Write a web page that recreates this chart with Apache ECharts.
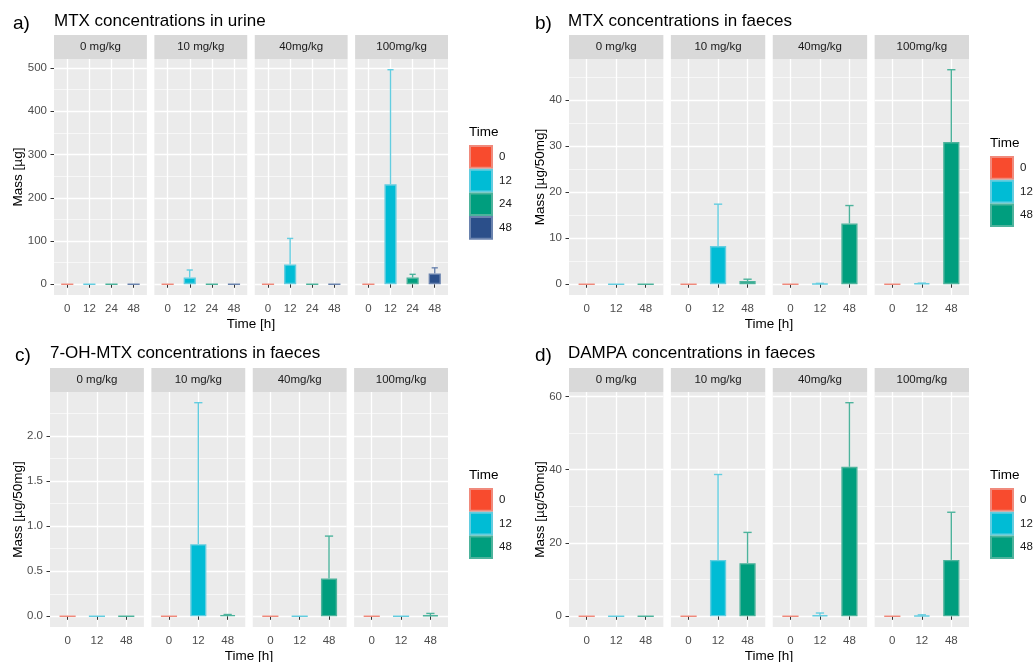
<!DOCTYPE html>
<html>
<head>
<meta charset="utf-8">
<title>MTX concentrations</title>
<script src="https://cdn.jsdelivr.net/npm/echarts@6/dist/echarts.min.js"></script>
<style>
  html, body { margin: 0; padding: 0; background: #fff; }
  #chart { width: 1034px; height: 662px; }
</style>
</head>
<body>
<div id="chart"></div>
<script>
// facet strips and x categories
const doses = ['0 mg/kg', '10 mg/kg', '40mg/kg', '100mg/kg'];
const urineTimes = ['0', '12', '24', '48'];
const faecesTimes = ['0', '12', '48'];

// mean and sd per dose (rows) and time (columns)
const mtxUrineMean = [[0, 0, 0, 0], [0, 15.4, 0, 0], [0, 46, 0, 0], [0, 231, 15.5, 25]];
const mtxUrineSd = [[0, 0, 0, 0], [0, 17.6, 0, 0], [0, 60, 0, 0], [0, 265, 7.5, 13]];
const mtxFaecesMean = [[0, 0, 0], [0, 8.3, 0.7], [0, 0.1, 13.2], [0, 0.2, 30.9]];
const mtxFaecesSd = [[0, 0, 0], [0, 9.1, 0.4], [0, 0.1, 3.9], [0, 0.05, 15.7]];
const ohMtxMean = [[0, 0, 0], [0, 0.8, 0.015], [0, 0, 0.42], [0, 0, 0.012]];
const ohMtxSd = [[0, 0, 0], [0, 1.57, 0.005], [0, 0, 0.47], [0, 0, 0.02]];
const dampaMean = [[0, 0, 0], [0, 15.4, 14.5], [0, 0.3, 40.8], [0, 0.2, 15.4]];
const dampaSd = [[0, 0, 0], [0, 23.3, 8.4], [0, 0.6, 17.5], [0, 0.2, 13]];

// y ticks (major with labels, minor grid only)
const urineTicks = [0, 100, 200, 300, 400, 500];
const urineMinor = [50, 150, 250, 350, 450];
const mtxFaecesTicks = [0, 10, 20, 30, 40];
const mtxFaecesMinor = [5, 15, 25, 35, 45];
const ohMtxTicks = [0, 0.5, 1, 1.5, 2];
const ohMtxMinor = [0.25, 0.75, 1.25, 1.75, 2.25];
const dampaTicks = [0, 20, 40, 60];
const dampaMinor = [10, 30, 50];

const urineColors = ['#F84B2E', '#00BCD5', '#009E7E', '#2B4F8A'];
const urineLight = ['#F08A7C', '#63CDE0', '#4DB39C', '#6A83AE'];
const faecesColors = ['#F84B2E', '#00BCD5', '#009E7E'];
const faecesLight = ['#F08A7C', '#63CDE0', '#4DB39C'];

const FONT = '"Liberation Sans", Arial, sans-serif';

const panels = [
  { tag: 'a)', title: 'MTX concentrations in urine', yName: 'Mass [µg]',
    times: urineTimes, mean: mtxUrineMean, sd: mtxUrineSd, ticks: urineTicks, minor: urineMinor, digits: 0,
    colors: urineColors, light: urineLight,
    left: 54, right: 448, top: 59, bottom: 295, tagX: 13, titleX: 54, titleY: 21, yNameX: 18, legendX: 469, legendY: 145 },
  { tag: 'b)', title: 'MTX concentrations in faeces', yName: 'Mass [µg/50mg]',
    times: faecesTimes, mean: mtxFaecesMean, sd: mtxFaecesSd, ticks: mtxFaecesTicks, minor: mtxFaecesMinor, digits: 0,
    colors: faecesColors, light: faecesLight,
    left: 569, right: 969, top: 59, bottom: 295, tagX: 535, titleX: 568, titleY: 21, yNameX: 540, legendX: 990, legendY: 156 },
  { tag: 'c)', title: '7-OH-MTX concentrations in faeces', yName: 'Mass [µg/50mg]',
    times: faecesTimes, mean: ohMtxMean, sd: ohMtxSd, ticks: ohMtxTicks, minor: ohMtxMinor, digits: 1,
    colors: faecesColors, light: faecesLight,
    left: 50, right: 448, top: 392, bottom: 627, tagX: 15, titleX: 50, titleY: 353, yNameX: 18, legendX: 469, legendY: 488 },
  { tag: 'd)', title: 'DAMPA concentrations in faeces', yName: 'Mass [µg/50mg]',
    times: faecesTimes, mean: dampaMean, sd: dampaSd, ticks: dampaTicks, minor: dampaMinor, digits: 0,
    colors: faecesColors, light: faecesLight,
    left: 569, right: 969, top: 392, bottom: 627, tagX: 535, titleX: 568, titleY: 353, yNameX: 540, legendX: 990, legendY: 488 }
];

const chart = echarts.init(document.getElementById('chart'));
const option = { animation: false, grid: [], xAxis: [], yAxis: [], series: [], legend: [], graphic: { elements: [] } };
const gfx = option.graphic.elements;

function text(x, y, str, size, color, align, rotation) {
  gfx.push({
    type: 'text', x: x, y: y, rotation: rotation || 0, silent: true,
    style: { text: str, font: size + 'px ' + FONT, fill: color, align: align, textAlign: align,
      verticalAlign: 'middle', textVerticalAlign: 'middle' }
  });
}

const gap = 7.5;
panels.forEach((p, pi) => {
  const fw = (p.right - p.left - 3 * gap) / 4;
  const n = p.times.length;
  const unit = fw / (n + 0.2);
  let upper = 0;
  p.mean.forEach((row, d) => row.forEach((m, t) => { upper = Math.max(upper, m + p.sd[d][t]); }));
  const pad = upper * 0.05;
  const xs = p.times.map((t, i) => i + 1);

  doses.forEach((dose, d) => {
    const gi = option.grid.length;
    const x0 = p.left + d * (fw + gap);
    option.grid.push({ left: x0, top: p.top, width: fw, height: p.bottom - p.top,
      show: true, backgroundColor: '#EBEBEB', borderWidth: 0 });
    option.xAxis.push({
      type: 'value', gridIndex: gi, min: 0.4, max: n + 0.6,
      axisLine: { show: false },
      axisTick: { show: true, length: 3.5, lineStyle: { color: '#333' }, customValues: xs },
      axisLabel: { customValues: xs, formatter: v => p.times[Math.round(v) - 1], color: '#4D4D4D',
        fontSize: 11.5, fontFamily: FONT, margin: 8 },
      splitLine: { show: true, lineStyle: { color: '#fff', width: 1.3 } }
    });
    option.yAxis.push({
      type: 'value', gridIndex: gi, min: -pad, max: upper + pad,
      axisLine: { show: false },
      axisTick: { show: d === 0, length: 3.5, lineStyle: { color: '#333' }, customValues: p.ticks },
      axisLabel: { show: d === 0, customValues: p.ticks, formatter: v => v.toFixed(p.digits), color: '#4D4D4D',
        fontSize: 11.5, fontFamily: FONT, margin: 7 },
      splitLine: { show: true, lineStyle: { color: '#fff', width: 1.3 } }
    });
    option.yAxis.push({
      type: 'value', gridIndex: gi, min: -pad, max: upper + pad,
      axisLine: { show: false },
      axisTick: { show: false, customValues: p.minor },
      axisLabel: { show: false },
      splitLine: { show: true, lineStyle: { color: '#fff', width: 0.6 } }
    });

    // bars, one series per time so the legend picks up the colours
    p.times.forEach((t, ti) => {
      option.series.push({
        type: 'bar', name: pi + '|' + t, xAxisIndex: gi, yAxisIndex: 2 * gi, silent: true,
        barWidth: unit * 0.55, barGap: '-100%', z: 3,
        itemStyle: { color: p.colors[ti], borderColor: p.light[ti], borderWidth: 1.4 },
        data: [[ti + 1, p.mean[d][ti]]]
      });
    });

    // upper error bars
    const errData = [];
    p.times.forEach((t, ti) => {
      if (p.sd[d][ti] > 0) errData.push([ti + 1, p.mean[d][ti], p.mean[d][ti] + p.sd[d][ti], ti]);
    });
    option.series.push({
      type: 'custom', xAxisIndex: gi, yAxisIndex: 2 * gi, silent: true, z: 4, data: errData,
      renderItem: (params, api) => {
        const x = api.value(0);
        const base = api.coord([x, api.value(1)]);
        const top = api.coord([x, api.value(2)]);
        const half = api.size([1, 0])[0] * 0.14;
        const style = { stroke: p.light[api.value(3)], lineWidth: 1.4 };
        return { type: 'group', children: [
          { type: 'line', shape: { x1: top[0], y1: base[1], x2: top[0], y2: top[1] }, style: style },
          { type: 'line', shape: { x1: top[0] - half, y1: top[1], x2: top[0] + half, y2: top[1] }, style: style }
        ] };
      }
    });

    // facet strip
    gfx.push({ type: 'rect', silent: true, shape: { x: x0, y: p.top - 24, width: fw, height: 24 },
      style: { fill: '#D9D9D9' } });
    text(x0 + fw / 2, p.top - 12, dose, 11.5, '#1A1A1A', 'center');
  });

  option.legend.push({
    data: p.times.map(t => pi + '|' + t),
    formatter: name => name.split('|')[1],
    orient: 'vertical', left: p.legendX, top: p.legendY, padding: 0,
    itemWidth: 22, itemHeight: 21.7, itemGap: 0, icon: 'rect', selectedMode: false,
    textStyle: { fontSize: 11.5, color: '#1A1A1A', fontFamily: FONT, padding: [0, 0, 0, 2] }
  });
  text(p.legendX, p.legendY - 13, 'Time', 13.5, '#000', 'left');

  text(p.tagX, p.titleY + 3, p.tag, 19, '#000', 'left');
  text(p.titleX, p.titleY, p.title, 17, '#000', 'left');
  text((p.left + p.right) / 2, p.bottom + 29, 'Time [h]', 13.5, '#000', 'center');
  text(p.yNameX, (p.top + p.bottom) / 2, p.yName, 13.5, '#000', 'center', Math.PI / 2);
});

chart.setOption(option);
</script>
</body>
</html>
